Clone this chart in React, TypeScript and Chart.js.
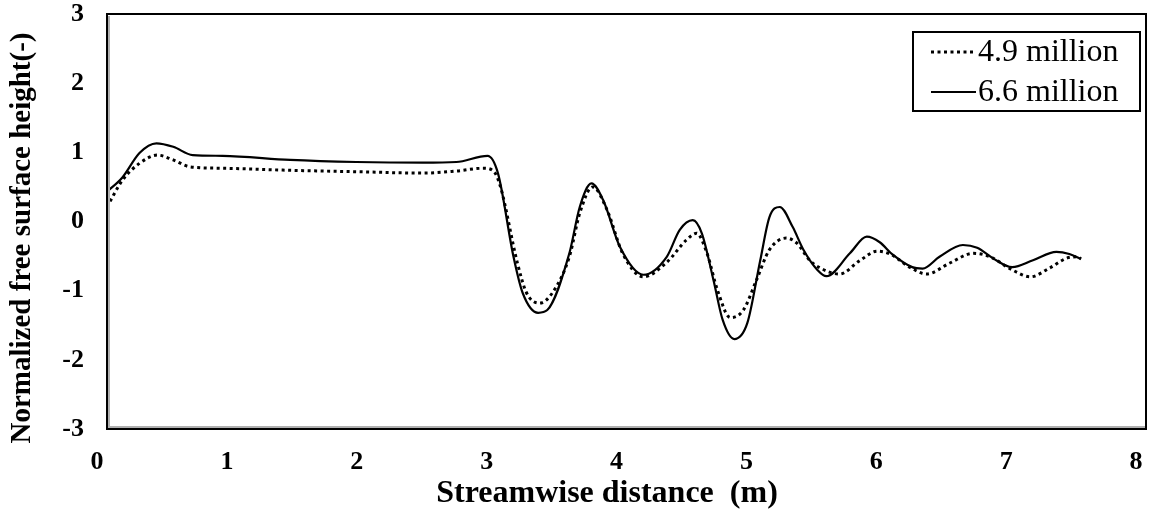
import React, { useEffect, useRef } from "react";
import { Chart, registerables } from "chart.js";

Chart.register(...registerables);

const seriesNames = ["4.9 million", "6.6 million"];

const dist49 = [0.0, 0.12, 0.25, 0.39, 0.51, 0.64, 0.89, 1.41, 1.92, 2.43, 2.69, 2.9, 2.98, 3.03, 3.16, 3.23, 3.33, 3.43, 3.56, 3.64, 3.74, 3.85, 3.97, 4.13, 4.31, 4.46, 4.54, 4.62, 4.7, 4.8, 4.9, 5.0, 5.1, 5.23, 5.31, 5.41, 5.49, 5.64, 5.8, 5.93, 6.03, 6.18, 6.31, 6.49, 6.67, 6.8, 6.97, 7.11, 7.26, 7.39, 7.47, 7.5];
const height49 = [0.21, 0.6, 0.84, 0.96, 0.89, 0.79, 0.77, 0.74, 0.72, 0.7, 0.73, 0.77, 0.72, 0.5, -0.6, -1.03, -1.18, -1.03, -0.51, 0.12, 0.5, 0.17, -0.46, -0.8, -0.59, -0.27, -0.17, -0.46, -0.99, -1.39, -1.28, -0.85, -0.41, -0.24, -0.31, -0.56, -0.67, -0.76, -0.56, -0.43, -0.47, -0.66, -0.76, -0.6, -0.46, -0.51, -0.7, -0.8, -0.67, -0.53, -0.51, -0.54];

const dist66 = [0.0, 0.12, 0.25, 0.38, 0.51, 0.66, 0.89, 1.41, 1.92, 2.43, 2.69, 2.93, 3.01, 3.13, 3.2, 3.32, 3.39, 3.56, 3.64, 3.73, 3.82, 3.95, 4.13, 4.31, 4.41, 4.51, 4.58, 4.67, 4.74, 4.83, 4.93, 5.03, 5.1, 5.18, 5.28, 5.36, 5.47, 5.54, 5.72, 5.85, 5.95, 6.05, 6.2, 6.28, 6.41, 6.59, 6.7, 6.82, 6.97, 7.13, 7.31, 7.41, 7.5];
const height66 = [0.43, 0.64, 0.99, 1.13, 1.08, 0.96, 0.95, 0.89, 0.86, 0.85, 0.86, 0.95, 0.7, -0.51, -1.03, -1.32, -1.28, -0.46, 0.21, 0.55, 0.31, -0.37, -0.77, -0.51, -0.12, 0.02, -0.17, -0.85, -1.42, -1.7, -1.47, -0.56, 0.06, 0.21, -0.08, -0.4, -0.7, -0.79, -0.46, -0.22, -0.3, -0.48, -0.66, -0.68, -0.51, -0.34, -0.38, -0.53, -0.66, -0.56, -0.44, -0.47, -0.54];

const xTicks = [0, 1, 2, 3, 4, 5, 6, 7, 8];
const yTicks = [-3, -2, -1, 0, 1, 2, 3];

const xTitle = "Streamwise distance  (m)";
const yTitle = "Normalized free surface height(-)";

const SERIF = "'Liberation Serif', 'Times New Roman', serif";

const framePlugin = {
  id: "frameAndLegend",
  afterDatasetsDraw(chart: any) {
    const { ctx, chartArea } = chart;
    const { left, right, top, bottom } = chartArea;
    ctx.save();
    ctx.strokeStyle = "#b0b0b0";
    ctx.lineWidth = 2;
    ctx.beginPath();
    ctx.moveTo(left + 2, top + 2);
    ctx.lineTo(left + 2, bottom - 2);
    ctx.lineTo(right - 1, bottom - 2);
    ctx.stroke();
    ctx.strokeStyle = "#000";
    ctx.lineWidth = 2;
    ctx.strokeRect(left, top, right - left, bottom - top);

    // axis titles
    ctx.fillStyle = "#000";
    ctx.textAlign = "center";
    ctx.textBaseline = "middle";
    ctx.font = "bold 32px " + SERIF;
    ctx.fillText(xTitle, 607, 494);
    ctx.save();
    ctx.translate(23, 238);
    ctx.rotate(-Math.PI / 2);
    ctx.font = "bold 29px " + SERIF;
    ctx.fillText(yTitle, 0, 0);
    ctx.restore();

    // legend
    const bx = 913, by = 32, bw = 227, bh = 79;
    ctx.fillStyle = "#fff";
    ctx.fillRect(bx, by, bw, bh);
    ctx.lineWidth = 2;
    ctx.strokeStyle = "#000";
    ctx.strokeRect(bx, by, bw, bh);

    const rows = [
      { y: 52, dash: [3, 3.5], width: 3, label: seriesNames[0] },
      { y: 92, dash: [], width: 2, label: seriesNames[1] },
    ];
    rows.forEach((r) => {
      ctx.beginPath();
      ctx.setLineDash(r.dash);
      ctx.lineWidth = r.width;
      ctx.strokeStyle = "#000";
      ctx.moveTo(931, r.y);
      ctx.lineTo(976, r.y);
      ctx.stroke();
      ctx.setLineDash([]);
      ctx.fillStyle = "#000";
      ctx.font = "32px " + SERIF;
      ctx.textAlign = "left";
      ctx.textBaseline = "middle";
      ctx.fillText(r.label, 978, r.y + 1);
    });
    ctx.restore();
  },
};

export default function App() {
  const canvasRef = useRef<HTMLCanvasElement | null>(null);

  useEffect(() => {
    document.body.style.margin = "0";
    const canvas = canvasRef.current;
    if (!canvas) return;
    const chart = new Chart(canvas, {
      type: "line",
      data: {
        datasets: [
          {
            label: seriesNames[0],
            data: dist49.map((x, i) => ({ x, y: height49[i] })),
            borderColor: "#000",
            borderWidth: 3,
            borderDash: [3, 3.5],
            pointRadius: 0,
            cubicInterpolationMode: "monotone",
            fill: false,
          },
          {
            label: seriesNames[1],
            data: dist66.map((x, i) => ({ x, y: height66[i] })),
            borderColor: "#000",
            borderWidth: 2.2,
            pointRadius: 0,
            cubicInterpolationMode: "monotone",
            fill: false,
          },
        ],
      },
      options: {
        animation: false,
        responsive: false,
        maintainAspectRatio: false,
        layout: { padding: { left: 0, top: 14, right: 3, bottom: 0 } },
        plugins: {
          legend: { display: false },
          tooltip: { enabled: false },
        },
        scales: {
          x: {
            type: "linear",
            min: 0,
            max: 8,
            afterBuildTicks: (scale: any) => {
              scale.ticks = xTicks.map((v) => ({ value: v }));
            },
            afterFit: (scale: any) => {
              scale.height = 85;
              scale.paddingLeft = 0;
              scale.paddingRight = 0;
            },
            grid: { display: false, drawTicks: false },
            border: { display: false },
            ticks: {
              padding: 18,
              labelOffset: -10,
              color: "#000",
              font: { family: SERIF, size: 26, weight: "bold" },
              callback: (v: any) => String(v),
            },
            title: { display: false, text: xTitle },
          },
          y: {
            type: "linear",
            min: -3,
            max: 3,
            afterBuildTicks: (scale: any) => {
              scale.ticks = yTicks.map((v) => ({ value: v }));
            },
            afterFit: (scale: any) => {
              scale.width = 107;
              scale.paddingTop = 0;
              scale.paddingBottom = 0;
            },
            grid: { display: false, drawTicks: false },
            border: { display: false },
            ticks: {
              padding: 23,
              color: "#000",
              font: { family: SERIF, size: 26, weight: "bold" },
              callback: (v: any) => String(v),
            },
            title: { display: false, text: yTitle },
          },
        },
      },
      plugins: [framePlugin],
    });
    return () => chart.destroy();
  }, []);

  return (
    <div style={{ width: 1149, height: 514, background: "#fff" }}>
      <canvas ref={canvasRef} width={1149} height={514} style={{ display: "block", width: 1149, height: 514 }} />
    </div>
  );
}
